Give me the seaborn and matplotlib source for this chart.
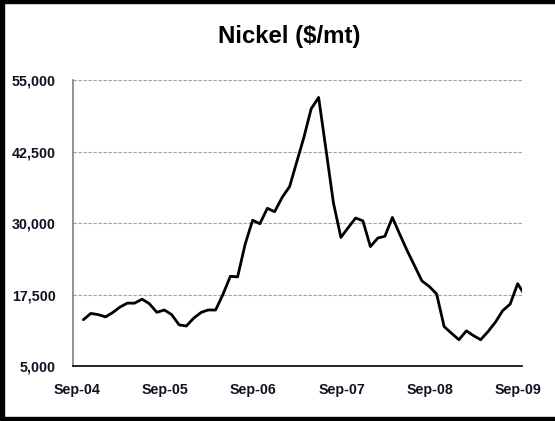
import matplotlib
matplotlib.use("Agg")
import matplotlib.pyplot as plt
import matplotlib.dates as mdates
import matplotlib.ticker as mticker
import matplotlib.patches as mpatches
import matplotlib.transforms as mtransforms
import seaborn as sns
import pandas as pd
import numpy as np

# ---- data (monthly nickel price, $/mt, Sep-04 .. Sep-09) ----
start_month = "2004-09-15"
prices = [
    13100, 14200, 14000, 13600, 14400, 15300, 16000, 16000, 16700, 15900,
    14400, 14800, 14000, 12200, 12000, 13400, 14400, 14800, 14800, 17500,
    20700, 20600, 26300, 30500, 29900, 32600, 32000, 34500, 36400, 40500,
    45000, 50000, 52000, 43000, 33600, 27500, 29200, 30900, 30400, 25900,
    27400, 27700, 31000, 28100, 25200, 22600, 19900, 18900, 17600, 11900,
    10750, 9600, 11150, 10350, 9600, 11000, 12670, 14680, 15830, 19400,
    17400,
]
y_ticks = [5000, 17500, 30000, 42500, 55000]
x_tick_dates = ["2004-09-01", "2005-09-01", "2006-09-01", "2007-09-01",
                "2008-09-01", "2009-09-01"]
title = "Nickel ($/mt)"

df = pd.DataFrame({
    "date": pd.date_range(start_month, periods=len(prices), freq="MS") + pd.Timedelta(days=14),
    "price": prices,
})

sns.set_style("white")
plt.rcParams["font.family"] = ["Liberation Sans", "DejaVu Sans"]

fig = plt.figure(figsize=(5.55, 4.21), dpi=100)
ax = fig.add_axes([72.7 / 555, 1 - 366 / 421, (522 - 72.7) / 555, (366 - 80.3) / 421])

sns.lineplot(data=df, x="date", y="price", ax=ax, color="black", linewidth=2.0, zorder=3)

ax.set_ylim(5000, 55000)
ax.set_xlim(pd.Timestamp("2004-09-01"), pd.Timestamp("2009-10-03"))
ax.set_yticks(y_ticks)
ax.yaxis.set_major_formatter(mticker.FuncFormatter(lambda v, p: f"{int(v):,}"))
ax.set_xticks([pd.Timestamp(d) for d in x_tick_dates])
ax.xaxis.set_major_formatter(mdates.DateFormatter("%b-%y"))
ax.set_xlabel("")
ax.set_ylabel("")

for s in ["top", "right"]:
    ax.spines[s].set_visible(False)
ax.spines["left"].set_color("#808080")
ax.spines["left"].set_linewidth(1.2)
ax.spines["bottom"].set_color("black")
ax.spines["bottom"].set_linewidth(1.2)

ax.yaxis.grid(True, linestyle=(0, (3, 1.5)), color="#a0a0a0", linewidth=0.8)
ax.xaxis.grid(False)
ax.set_axisbelow(True)

ax.tick_params(axis="y", direction="out", length=4, width=1.2, color="#808080",
               pad=8, labelsize=10.3, labelcolor="#111122")
ax.tick_params(axis="x", direction="out", length=4, width=1.0, color="black",
               pad=8, labelsize=10.3, labelcolor="#111122")
for lab in ax.get_xticklabels() + ax.get_yticklabels():
    lab.set_fontweight("bold")
offset = mtransforms.ScaledTranslation(4 / 100, 0, fig.dpi_scale_trans)
for lab in ax.get_xticklabels():
    lab.set_transform(lab.get_transform() + offset)

fig.text(289 / 555, 1 - 42.5 / 421, title, ha="center", va="baseline",
         fontsize=17.3, fontweight="bold", color="black")

# black frame on left, top, bottom
fig.patches.append(mpatches.Rectangle((0, 0), 4 / 555, 1, transform=fig.transFigure,
                                      color="black", zorder=10))
fig.patches.append(mpatches.Rectangle((0, 1 - 3 / 421), 1, 3 / 421, transform=fig.transFigure,
                                      color="black", zorder=10))
fig.patches.append(mpatches.Rectangle((0, 0), 1, 4.5 / 421, transform=fig.transFigure,
                                      color="black", zorder=10))

fig.savefig("out.png", dpi=100)
